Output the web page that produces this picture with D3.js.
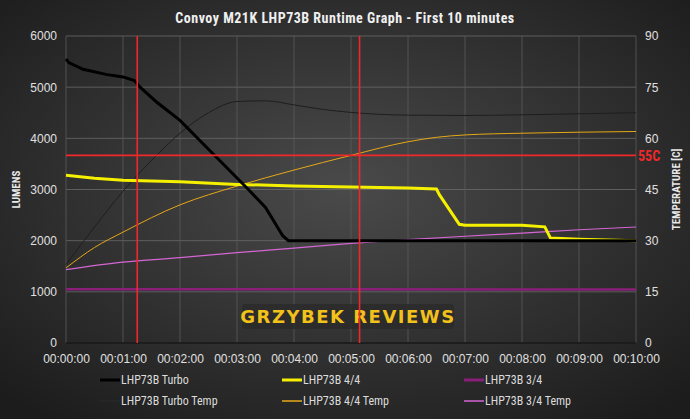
<!DOCTYPE html>
<html><head><meta charset="utf-8">
<script src="https://cdn.jsdelivr.net/npm/d3@7"></script>
<style>body{margin:0;background:#222}svg{display:block;font-family:"Roboto Condensed",Roboto,"Liberation Sans",sans-serif}</style>
</head><body><div id="chart"></div>
<script>
// minutes since start
const turboT = [0,0.05,0.3,0.7,1,1.2,1.3,1.6,2,2.4,2.8,3.2,3.5,3.8,3.9,4.5,5,6,7,8,9,10];
const turboL = [5550,5480,5350,5250,5200,5130,5000,4700,4350,3900,3450,3000,2650,2100,2000,2000,2000,2000,2000,2000,2000,2000];
const fullT = [0,0.5,1,2,3,4,5,6,6.5,6.55,6.9,7,8,8.4,8.5,9,10];
const fullL = [3280,3220,3180,3150,3100,3070,3050,3030,3010,2900,2320,2300,2300,2270,2050,2030,2000];
const medT = [0,5,10];
const medL = [1050,1050,1045];
const turboTempT = [0,0.5,1,1.5,2,2.5,3,3.5,4,4.5,5,6,7,8,9,10];
const turboTemp = [23,34,44.5,53.5,61.5,67.5,70.8,71,69.8,68.5,67.6,66.8,66.7,66.9,67.2,67.5];
const fullTempT = [0,0.5,1,2,3,4,5,6,6.5,7,8,9,10];
const fullTemp = [22,28,32.5,40.5,46,50.7,55,59,60.3,61,61.5,61.8,62];
const medTempT = [0,1,2,3,4,5,6,7,8,9,10];
const medTemp = [21.5,23.7,25,26.5,27.8,29.2,30.3,31.3,32.2,33.2,34];
const xTicks = ["00:00:00","00:01:00","00:02:00","00:03:00","00:04:00","00:05:00","00:06:00","00:07:00","00:08:00","00:09:00","00:10:00"];
const markers = [1.25,5.15];
const limitTemp = 55;

const W = 690, H = 419, m = {l:66, r:54, t:36, b:76};
const svg = d3.select("#chart").append("svg").attr("width",W).attr("height",H);
const defs = svg.append("defs");
const rg = defs.append("radialGradient").attr("id","bg").attr("cx","50%").attr("cy","45%").attr("r","70%");
rg.append("stop").attr("offset","0%").attr("stop-color","#4a4a4a");
rg.append("stop").attr("offset","100%").attr("stop-color","#1c1c1c");
svg.append("rect").attr("width",W).attr("height",H).attr("fill","url(#bg)");

const x = d3.scaleLinear().domain([0,10]).range([m.l, W-m.r]);
const y = d3.scaleLinear().domain([0,6000]).range([H-m.b, m.t]);
const y2 = d3.scaleLinear().domain([0,90]).range([H-m.b, m.t]);

svg.append("text").attr("x",W/2).attr("y",23).attr("text-anchor","middle").attr("fill","#f0f0f0")
  .attr("font-size",14).attr("font-weight","bold").attr("letter-spacing",0.5).text("Convoy M21K LHP73B Runtime Graph - First 10 minutes");

// grid
svg.append("g").selectAll("line").data(d3.range(0,6001,1000)).join("line")
  .attr("x1",m.l).attr("x2",W-m.r).attr("y1",d=>y(d)).attr("y2",d=>y(d)).attr("stroke","#6a6a6a").attr("stroke-width",0.8);
svg.append("g").selectAll("line").data(d3.range(0,11)).join("line")
  .attr("x1",d=>x(d)).attr("x2",d=>x(d)).attr("y1",m.t).attr("y2",H-m.b).attr("stroke","#5a5a5a").attr("stroke-width",0.8);
svg.append("line").attr("x1",m.l).attr("x2",W-m.r).attr("y1",y(0)).attr("y2",y(0)).attr("stroke","#111").attr("stroke-width",1.5);

const axisStyle = g => { g.select(".domain").remove(); g.selectAll(".tick line").remove();
  g.selectAll("text").attr("fill","#e0e0e0").attr("font-size",12); };
svg.append("g").attr("transform",`translate(${m.l-6},0)`).call(d3.axisLeft(y).tickValues(d3.range(0,6001,1000)).tickFormat(d3.format("d")).tickSize(0)).call(axisStyle);
svg.append("g").attr("transform",`translate(${W-m.r+6},0)`).call(d3.axisRight(y2).tickValues(d3.range(0,91,15)).tickSize(0)).call(axisStyle);
svg.append("g").attr("transform",`translate(0,${H-m.b+8})`).call(d3.axisBottom(x).tickValues(d3.range(0,11)).tickFormat((d,i)=>xTicks[i]).tickSize(0)).call(axisStyle);

svg.append("text").attr("transform",`translate(20,${(m.t+H-m.b)/2}) rotate(-90)`).attr("text-anchor","middle")
  .attr("fill","#e8e8e8").attr("font-size",11).attr("font-weight","bold").text("LUMENS");
svg.append("text").attr("transform",`translate(${W-10},${(m.t+H-m.b)/2}) rotate(-90)`).attr("text-anchor","middle")
  .attr("fill","#e8e8e8").attr("font-size",11).attr("font-weight","bold").text("TEMPERATURE [C]");

// watermark
svg.append("rect").attr("x",242).attr("y",304).attr("width",212).attr("height",25).attr("rx",4).attr("fill","#2a2a2a").attr("opacity",0.85);
svg.append("text").attr("x",348).attr("y",323).attr("text-anchor","middle").attr("fill","#f2c21a")
  .attr("font-size",18).attr("font-weight","bold").attr("letter-spacing",1.5).attr("font-family","'DejaVu Sans',sans-serif").text("GRZYBEK REVIEWS");

const line = (ts,vs,sc,cv) => d3.line().curve(cv).x((d,i)=>x(ts[i])).y(d=>sc(d))(vs);
const series = [
  {t:turboTempT,v:turboTemp,s:y2,c:"#1e1e1e",w:1,cv:d3.curveMonotoneX},
  {t:fullTempT,v:fullTemp,s:y2,c:"#e6a817",w:1,cv:d3.curveMonotoneX},
  {t:medTempT,v:medTemp,s:y2,c:"#d466d4",w:1.2,cv:d3.curveMonotoneX},
  {t:medT,v:medL,s:y,c:"#8a1f7a",w:2.5,cv:d3.curveLinear},
  {t:fullT,v:fullL,s:y,c:"#f5f000",w:3,cv:d3.curveLinear},
  {t:turboT,v:turboL,s:y,c:"#000",w:3,cv:d3.curveLinear}
];
series.forEach(d=>svg.append("path").attr("d",line(d.t,d.v,d.s,d.cv)).attr("fill","none").attr("stroke",d.c).attr("stroke-width",d.w));

svg.selectAll(".mk").data(markers).join("line").attr("x1",d=>x(d)).attr("x2",d=>x(d)).attr("y1",m.t).attr("y2",H-m.b)
  .attr("stroke","#f0282a").attr("stroke-width",1.6);
svg.append("line").attr("x1",m.l).attr("x2",W-m.r).attr("y1",y2(limitTemp)).attr("y2",y2(limitTemp)).attr("stroke","#f0282a").attr("stroke-width",1.6);
svg.append("text").attr("x",W-m.r+2).attr("y",y2(limitTemp)+6).attr("fill","#f0282a").attr("font-size",14).attr("font-weight","bold").text("55C");

// legend
const leg = [["LHP73B Turbo","#000",3],["LHP73B 4/4","#f5f000",3],["LHP73B 3/4","#8a1f7a",3],
  ["LHP73B Turbo Temp","#2a2a2a",1],["LHP73B 4/4 Temp","#e6a817",1.5],["LHP73B 3/4 Temp","#d466d4",1.5]];
const lg = svg.append("g").selectAll("g").data(leg).join("g")
  .attr("transform",(d,i)=>`translate(${100+(i%3)*182},${i<3?384:405})`);
lg.append("line").attr("x1",0).attr("x2",20).attr("y1",-4).attr("y2",-4).attr("stroke",d=>d[1]).attr("stroke-width",d=>d[2]);
lg.append("text").attr("x",21).attr("fill","#dcdcdc").attr("font-size",12).text(d=>d[0]);
</script></body></html>
